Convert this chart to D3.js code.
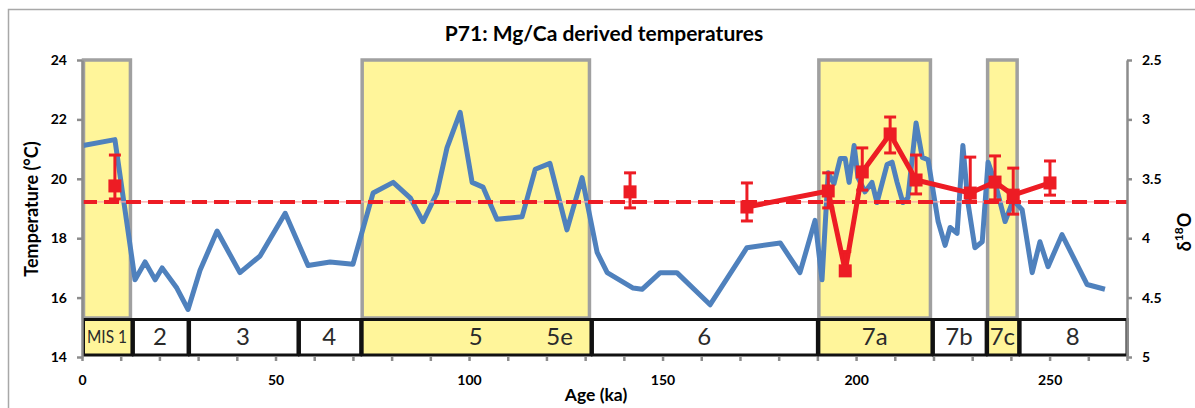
<!DOCTYPE html>
<html><head><meta charset="utf-8">
<script src="https://cdn.jsdelivr.net/npm/d3@7"></script>
<style>body{margin:0;background:#fff;} svg{display:block;font-family:Lato,'Open Sans',sans-serif;}</style>
</head><body><svg id="c" width="1195" height="408"></svg>
<script>
// ---- data ----
const misLabels = ["MIS 1","2","3","4","5","6","7a","7b","7c","8"];
const misStart  = [0,12.9,27.4,55.8,72,131.5,190,219.6,233.6,242];
const misEnd    = [12.9,27.4,55.8,72,131.5,190,219.6,233.6,242,270];
const misWarm   = [true,false,false,false,true,false,true,false,true,false];
const subStageLabel = "5e";

const blueAge = [0.3,8.5,13.7,16.3,18.9,20.7,24.5,27.4,30.5,34.9,40.8,46.0,52.5,58.4,64.1,70.0,75.2,80.4,84.8,88.1,
  91.7,94.3,97.7,100.8,103.6,107.2,113.7,117.1,120.9,125.3,129.2,133.1,135.7,142.4,144.7,149.4,153.7,162.3,171.8,180.4,
  185.5,189.4,191.2,192.8,194.3,195.9,197.2,198.2,199.5,200.5,202.3,204.1,205.4,208.0,209.3,210.6,212.1,213.4,215.5,217.1,
  218.6,221.2,223.0,224.3,226.1,227.6,228.9,230.7,232.6,234.1,235.9,238.5,240.6,242.9,245.5,247.5,249.6,253.2,259.7,264.3];
const blueD18O = [3.22,3.17,4.35,4.20,4.35,4.25,4.42,4.60,4.27,3.94,4.29,4.15,3.79,4.23,4.20,4.22,3.62,3.53,3.66,3.86,
  3.62,3.24,2.94,3.53,3.57,3.84,3.82,3.42,3.37,3.93,3.49,4.12,4.29,4.42,4.43,4.29,4.29,4.56,4.08,4.04,
  4.29,3.85,4.35,3.45,3.54,3.33,3.33,3.53,3.22,3.49,3.61,3.53,3.70,3.38,3.36,3.53,3.70,3.66,3.03,3.32,
  3.34,3.86,4.06,3.91,3.96,3.22,3.70,4.08,4.03,3.36,3.53,3.86,3.68,3.76,4.29,4.03,4.24,3.97,4.39,4.43];

const redAge   = [8.5,141.6,171.8,192.8,197.2,201.6,208.8,215.5,229.5,235.9,240.6,250.1];
const redTemp  = [19.76,19.56,19.05,19.59,16.90,20.23,21.51,19.96,19.52,19.89,19.45,19.86];
const redHigh  = [20.80,20.20,19.86,20.20,17.55,21.04,22.08,20.80,20.73,20.77,20.36,20.60];
const redLow   = [19.32,19.02,18.58,19.02,16.80,19.62,20.87,19.49,19.22,19.29,18.81,19.45];
const redJoined= [false,false,true,true,true,true,true,true,true,true,true,true];
const meanTemp = 19.22;

const leftTicks  = [14,16,18,20,22,24];
const rightTicks = [2.5,3,3.5,4,4.5,5];
const xTicks     = d3.range(0,271,10);
const xLabelled  = [0,50,100,150,200,250];

const title = "P71: Mg/Ca derived temperatures";
const xTitle = "Age (ka)";
const yTitle = "Temperature (°C)";

// ---- layout ----
const L=82, R=1127, T=60, B=357;
const x  = d3.scaleLinear().domain([0,270]).range([L,R]);
const yT = d3.scaleLinear().domain([14,24]).range([B,T]);
const yD = d3.scaleLinear().domain([2.5,5]).range([T,B]);
const stripTop = 318, stripBot = 355;

const RED="#ed1c24", BLUE="#4f81bd", YEL="#fff59a", GREY="#a0a0a0";
const svg = d3.select("#c");

svg.append("rect").attr("x",8.5).attr("y",9.5).attr("width",1300).attr("height",500)
  .attr("fill","#fff").attr("stroke","#a8a8a8").attr("stroke-width",1.5);

svg.append("text").attr("x",604).attr("y",41).attr("text-anchor","middle")
  .attr("font-weight","bold").attr("font-size",21).text(title);

// interglacial boxes
const mis = misLabels.map((l,i)=>({label:l,s:misStart[i],e:misEnd[i],warm:misWarm[i]}));
svg.append("g").selectAll("rect").data(mis.filter(d=>d.warm)).join("rect")
  .attr("x",d=>x(d.s)+1.5).attr("y",T).attr("width",d=>x(d.e)-x(d.s)-3).attr("height",stripTop-T)
  .attr("fill",YEL).attr("stroke",GREY).attr("stroke-width",3.5);

// MIS strip
const sg = svg.append("g");
sg.selectAll("rect").data(mis).join("rect")
  .attr("x",d=>x(d.s)+1.5).attr("y",stripTop+1.5).attr("width",d=>x(d.e)-x(d.s)-1.5).attr("height",stripBot-stripTop-1.5)
  .attr("fill",d=>d.warm?YEL:"#fff").attr("stroke","#111").attr("stroke-width",3);
sg.selectAll("text").data(mis).join("text")
  .attr("x",d=>x((d.s+d.e)/2)).attr("y",345).attr("text-anchor","middle")
  .attr("font-size",d=>d.label.length>3?17:24).attr("font-weight",400).attr("fill","#2a2a2a")
  .each(function(d){ if(d.label.length>3){ d3.select(this).attr("textLength",40).attr("lengthAdjust","spacingAndGlyphs").attr("y",343);} })
  .text(d=>d.label);
sg.append("text").attr("x",x(misEnd[4])-18).attr("y",345).attr("text-anchor","end")
  .attr("font-size",24).attr("font-weight",400).attr("fill","#2a2a2a").text(subStageLabel);

// blue d18O line
svg.append("path").datum(blueAge.map((a,i)=>[a,blueD18O[i]]))
  .attr("d",d3.line().x(d=>x(d[0])).y(d=>yD(d[1])))
  .attr("fill","none").attr("stroke",BLUE).attr("stroke-width",5).attr("stroke-linejoin","round");

// mean temp dashed line
svg.append("line").attr("x1",L).attr("x2",R).attr("y1",yT(meanTemp)).attr("y2",yT(meanTemp))
  .attr("stroke","#f7a8a8").attr("stroke-width",1.2);
svg.append("line").attr("x1",L).attr("x2",R).attr("y1",yT(meanTemp)).attr("y2",yT(meanTemp))
  .attr("stroke",RED).attr("stroke-width",4).attr("stroke-dasharray","15,7");

// red temperature series
const red = redAge.map((a,i)=>({a,t:redTemp[i],hi:redHigh[i],lo:redLow[i],j:redJoined[i]}));
svg.append("path").datum(red.filter(d=>d.j))
  .attr("d",d3.line().x(d=>x(d.a)).y(d=>yT(d.t)))
  .attr("fill","none").attr("stroke",RED).attr("stroke-width",5).attr("stroke-linejoin","round");
const eg = svg.append("g").attr("stroke",RED).attr("stroke-width",3);
eg.selectAll(".v").data(red).join("line").attr("x1",d=>x(d.a)).attr("x2",d=>x(d.a))
  .attr("y1",d=>yT(d.hi)).attr("y2",d=>yT(d.lo));
eg.selectAll(".h1").data(red).join("line").attr("x1",d=>x(d.a)-6).attr("x2",d=>x(d.a)+6)
  .attr("y1",d=>yT(d.hi)).attr("y2",d=>yT(d.hi));
eg.selectAll(".h2").data(red).join("line").attr("x1",d=>x(d.a)-6).attr("x2",d=>x(d.a)+6)
  .attr("y1",d=>yT(d.lo)).attr("y2",d=>yT(d.lo));
svg.append("g").selectAll("rect").data(red).join("rect")
  .attr("x",d=>x(d.a)-6.5).attr("y",d=>yT(d.t)-6.5).attr("width",13).attr("height",13).attr("fill",RED);

// axes
function styleAxis(g){
  g.selectAll(".domain").attr("stroke","#8c8c8c").attr("stroke-width",2.5);
  g.selectAll(".tick line").attr("stroke","#8c8c8c").attr("stroke-width",2.5);
  g.selectAll("text").attr("font-family","Lato,'Open Sans',sans-serif").attr("font-size",14).attr("font-weight","bold").attr("fill","#000");
}
svg.append("g").attr("transform",`translate(${L},0)`)
  .call(d3.axisLeft(yT).tickValues(leftTicks).tickSize(5).tickSizeOuter(0).tickPadding(10).tickFormat(d=>String(d))).call(styleAxis);
svg.append("g").attr("transform",`translate(${R},0)`)
  .call(d3.axisRight(yD).tickValues(rightTicks).tickSize(5).tickSizeOuter(0).tickPadding(10).tickFormat(d=>String(d))).call(styleAxis);
const xg = svg.append("g").attr("transform",`translate(0,${B})`)
  .call(d3.axisBottom(x).tickValues(xTicks).tickSize(4).tickSizeOuter(0).tickPadding(14).tickFormat(d=>xLabelled.includes(d)?String(d):"")).call(styleAxis);
xg.select(".domain").remove();

svg.append("text").attr("x",596).attr("y",401).attr("text-anchor","middle")
  .attr("font-weight","bold").attr("font-size",17.5).text(xTitle);
svg.append("text").attr("transform","translate(31,209) rotate(-90)").attr("text-anchor","middle")
  .attr("dominant-baseline","central")
  .attr("font-weight","bold").attr("font-size",18).text(yTitle);
const rt = svg.append("text").attr("transform","translate(1184,232) rotate(-90)").attr("text-anchor","middle")
  .attr("dominant-baseline","central")
  .attr("font-weight","bold").attr("font-size",18);
rt.append("tspan").text("δ");
rt.append("tspan").attr("font-size",12).attr("dy",-6).text("18");
rt.append("tspan").attr("dy",6).text("O");
</script></body></html>
